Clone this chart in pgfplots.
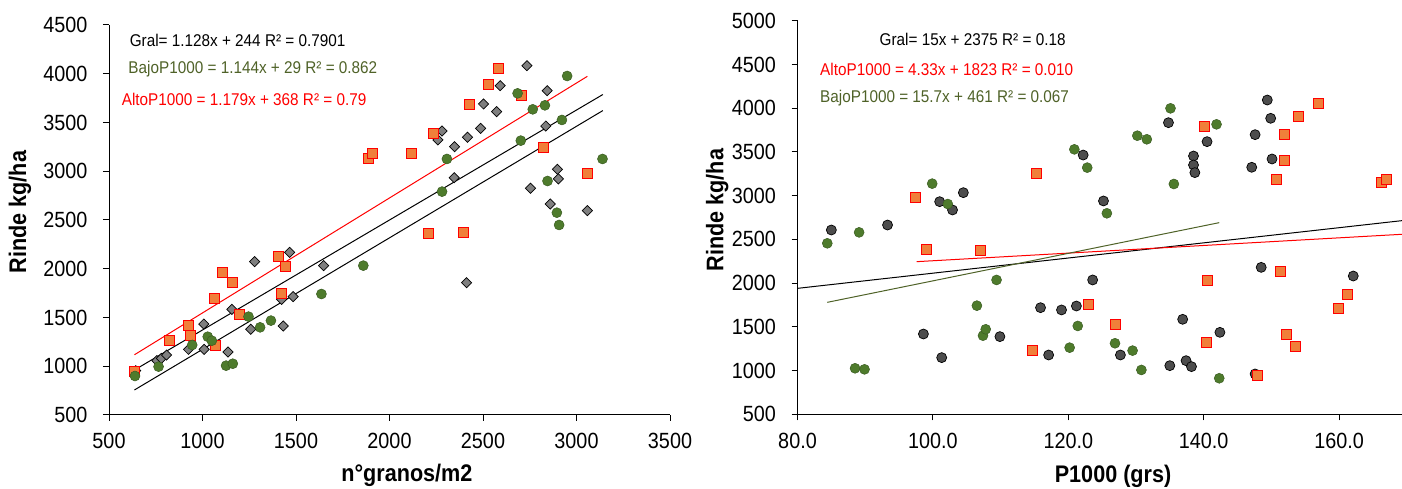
\documentclass[border=0pt]{standalone}
\usepackage{fontspec}
\setmainfont{Liberation Sans}[FakeStretch=0.9]
\usepackage{pgfplots}
\pgfplotsset{compat=1.18}
\definecolor{grn}{HTML}{4E7B2C}
\definecolor{grntxt}{HTML}{4F6228}
\definecolor{org}{HTML}{F07F3A}
\definecolor{dgray}{HTML}{4D4D4D}
\definecolor{mgray}{HTML}{7F7F7F}
\tikzset{eq/.style={anchor=west, inner sep=0pt, font=\fontsize{17}{19}\selectfont}}
\pgfplotsset{
 common/.style={
  scale only axis, axis lines=left, axis line style={-, line width=1pt, black},
  tick align=outside, major tick length=6pt, tick style={line width=1pt, black},
  ticklabel style={font=\fontsize{22}{24}\selectfont},
  xticklabel style={yshift=-9pt},
  yticklabel style={xshift=-12pt},
  /pgf/number format/assume math mode=true,
  label style={font=\bfseries\fontsize{24}{26}\selectfont},
 },
 dia/.style={only marks, mark=square*, mark size=3.6pt, mark options={rotate=45, fill=mgray, draw=black, line width=0.7pt}},
 sqr/.style={only marks, mark=square*, mark size=5pt, mark options={fill=org, draw=red, line width=1pt}},
 gcirc/.style={only marks, mark=*, mark size=5pt, mark options={fill=grn, draw=grn!75!black, line width=0.5pt}},
 dcirc/.style={only marks, mark=*, mark size=5pt, mark options={fill=dgray, draw=black, line width=0.7pt}},
}
\begin{document}
\begin{tikzpicture}
\path[use as bounding box] (0pt,0pt) rectangle (1402pt,489pt);
% ---------------- left ----------------
\begin{axis}[common, at={(109pt,74pt)}, anchor=south west, width=561pt, height=390pt,
  xmin=500, xmax=3500, ymin=500, ymax=4500,
  xtick={500,1000,...,3500}, ytick={500,1000,...,4500},
  /pgf/number format/1000 sep={},
  xlabel={n°granos/m2}, ylabel={Rinde kg/ha},
  xlabel style={at={(rel axis cs:0.531,-0.156)}, anchor=center},
  ylabel style={at={(rel axis cs:-0.1586,0.5205)}, anchor=center},
]
\addplot[dia] coordinates {
(643,955) (756,1057) (780,1081) (808,1115) (925,1173) (1007,1433) (1009,1173)
(1136,1146) (1157,1584) (1258,1379) (1279,2073) (1423,1686) (1432,1413) (1466,2168)
(1485,1714) (1648,2032) (2259,3321) (2281,3413) (2348,3252) (2346,2934) (2417,3348)
(2412,1857) (2487,3440) (2503,3690) (2573,3611) (2592,3878) (2735,4083) (2754,2825)
(2836,3464) (2843,3826) (2860,2664) (2898,3020) (2903,2921) (3058,2596)};
\addplot[sqr] coordinates {
(636,944) (823,1269) (925,1413) (937,1320) (1067,1211) (1064,1697) (1107,1963)
(1160,1864) (1200,1526) (1408,2124) (1444,2021) (1423,1748) (1889,3132) (1910,3184)
(2118,3184) (2209,2363) (2233,3389) (2396,2373) (2429,3686) (2532,3891) (2585,4049)
(2704,3782) (2821,3245) (3058,2975)};
\addplot[gcirc] coordinates {
(639,900) (765,996) (945,1218) (1028,1303) (1050,1262) (1126,1006) (1162,1026)
(1246,1509) (1308,1399) (1366,1468) (1636,1741) (1860,2032) (2281,2791) (2307,3126)
(2685,3799) (2766,3635) (2702,3314) (2831,3676) (2845,2900) (2922,3526) (2950,3977)
(2895,2575) (2907,2449) (3139,3126)};
\addplot[black, line width=1pt] coordinates {(636,961.4) (3141,3787.0)};
\addplot[black, line width=1pt] coordinates {(636,756.6) (3141,3622.3)};
\addplot[red, line width=1pt] coordinates {(636,1117.8) (3058,3973.4)};
\node[eq, text=black] at (rel axis cs:0.0367,0.9615) {Gral= 1.128x + 244 R² = 0.7901};
\node[eq, text=grntxt] at (rel axis cs:0.0344,0.887) {BajoP1000 = 1.144x + 29 R² = 0.862};
\node[eq, text=red] at (rel axis cs:0.0225,0.810) {AltoP1000 = 1.179x + 368 R² = 0.79};
\end{axis}
% ---------------- right ----------------
\begin{axis}[common, at={(797.5pt,74.7pt)}, anchor=south west, width=604.5pt, height=393.6pt,
  xmin=80, xmax=169.3, ymin=500, ymax=5000,
  xtick={80,100,...,160}, ytick={500,1000,...,5000},
  xticklabel style={/pgf/number format/.cd, fixed, fixed zerofill, precision=1},
  yticklabel style={/pgf/number format/1000 sep={}},
  xlabel={P1000 (grs)}, ylabel={Rinde kg/ha},
  xlabel style={at={(rel axis cs:0.522,-0.157)}, anchor=center},
  ylabel style={at={(rel axis cs:-0.133,0.519)}, anchor=center},
]
\addplot[dcirc] coordinates {
(85.0,2607) (93.3,2664) (101.0,2931) (102.9,2836) (104.5,3034) (98.6,1418) (101.3,1148)
(109.9,1388) (115.9,1719) (117.1,1178) (119.0,1693) (121.2,1738) (122.2,3464) (123.6,2036)
(125.2,2939) (127.7,1178) (134.8,3834) (135.0,1056) (136.9,1586) (137.4,1113) (138.2,1045)
(138.5,3453) (138.5,3350) (138.7,3263) (140.5,3617) (142.4,1437) (147.1,3324) (147.6,3697)
(147.6,961) (148.5,2180) (149.4,4093) (149.9,3884) (150.1,3419) (162.1,2081)};
\addplot[gcirc] coordinates {
(84.4,2455) (89.1,2580) (88.5,1026) (89.9,1014) (99.9,3137) (102.2,2904) (106.5,1742)
(107.4,1399) (107.8,1472) (109.4,2036) (120.2,1262) (120.9,3529) (121.4,1510) (122.8,3320)
(125.7,2798) (126.9,1312) (129.5,1228) (130.2,3685) (130.8,1007) (131.6,3644) (135.1,3998)
(135.6,3133) (141.9,3815) (142.3,912)};
\addplot[sqr] coordinates {
(97.5,2981) (99.1,2379) (107.1,2371) (114.7,1228) (115.3,3255) (123.0,1750) (127.0,1529)
(140.1,3796) (140.5,2028) (140.4,1319) (147.9,942) (150.7,3190) (151.3,2131) (152.0,3701)
(152.0,3396) (152.3,1414) (153.6,1274) (154.0,3903) (157.0,4055) (159.9,1704) (161.2,1872)
(166.3,3148) (167.0,3190)};
\addplot[black, line width=1pt] coordinates {(80,1940) (169.3,2714)};
\addplot[red, line width=1pt] coordinates {(97.6,2245) (169.3,2558)};
\addplot[grntxt, line width=1pt] coordinates {(84.4,1780) (142.3,2691)};
\node[eq, text=black] at (rel axis cs:0.1357,0.9535) {Gral= 15x + 2375 R² = 0.18};
\node[eq, text=red] at (rel axis cs:0.0372,0.877) {AltoP1000 = 4.33x + 1823 R² = 0.010};
\node[eq, text=grntxt] at (rel axis cs:0.0372,0.8036) {BajoP1000 = 15.7x + 461 R² = 0.067};
\end{axis}
\end{tikzpicture}
\end{document}
